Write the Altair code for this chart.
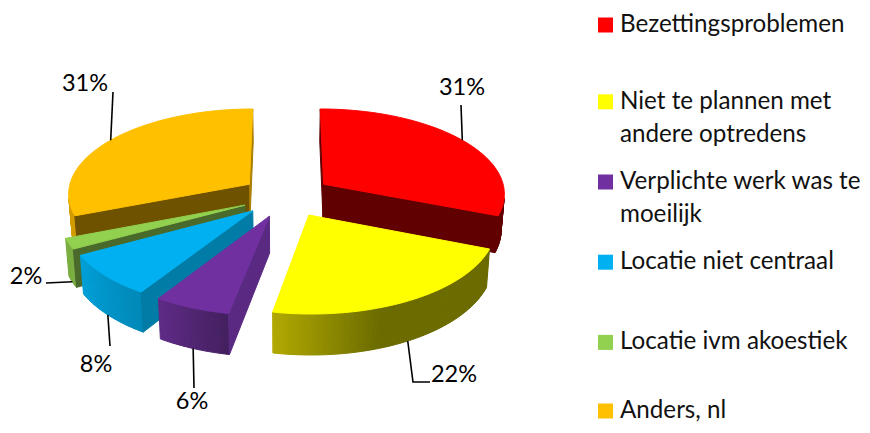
import math
import altair as alt

categories = ["Bezettingsproblemen", "Niet te plannen met andere optredens",
              "Verplichte werk was te moeilijk", "Locatie niet centraal",
              "Locatie ivm akoestiek", "Anders, nl"]
legend_line1 = ["Bezettingsproblemen", "Niet te plannen met", "Verplichte werk was te",
                "Locatie niet centraal", "Locatie ivm akoestiek", "Anders, nl"]
legend_line2 = ["", "andere optredens", "moeilijk", "", "", ""]
values = [31, 22, 6, 8, 2, 31]
top_colors = ["#ff0000", "#ffff00", "#7030a0", "#00b0f0", "#92d050", "#ffc000"]
rim_start = ["#600000", "#6b6b00", "#43205f", "#0088b8", "#7aae40", "#d39c00"]
rim_end = ["#600000", "#b0a800", "#5e2a86", "#00a0d8", "#7aae40", "#d39c00"]
start_face = ["#600000", "#6b6b00", "#5a2a82", "#007ca6", "#4a6a2c", "#6e5200"]
end_face = ["#600000", "#6b6b00", "#5a2a82", "#007ca6", "#4a6a2c", "#a87d00"]
paint_order = [5, 0, 4, 3, 1, 2]

# picture-space model of the exploded, tilted pie (chart pixels = page pixels - 8)
CX, CY, RX, RY, K, EXPLODE, DEPTH = 278.5, 188.0, 182.0, 85.0, 0.10, 0.25, 36.0


def project(wx, wy, bottom=False):
    p = 1.0 / (1.0 - K * wy)
    x = RX * wx * p
    y = RY * wy * p
    if bottom:
        return [CX + x * 0.985, CY + y + DEPTH * p]
    return [CX + x, CY + y]


def polar(a, r=1.0):
    return r * math.sin(a), -r * math.cos(a)


def hex_mix(c1, c2, t):
    a = [int(c1[i:i + 2], 16) for i in (1, 3, 5)]
    b = [int(c2[i:i + 2], 16) for i in (1, 3, 5)]
    return "#%02x%02x%02x" % tuple(round(u + (v - u) * t) for u, v in zip(a, b))


def area(pts):
    s = 0.0
    for i in range(len(pts)):
        x1, y1 = pts[i]
        x2, y2 = pts[(i + 1) % len(pts)]
        s += x1 * y2 - x2 * y1
    return s / 2


def feature(pts, fill):
    return {"type": "Feature",
            "geometry": {"type": "Polygon", "coordinates": [pts + [pts[0]]]},
            "properties": {"fill": fill}}


total = sum(values)
bounds = [0.0]
for v in values:
    bounds.append(bounds[-1] + 2 * math.pi * v / total)

shapes = []
for i in paint_order:
    a0, a1 = bounds[i], bounds[i + 1]
    mid = (a0 + a1) / 2
    ex, ey = polar(mid, EXPLODE)
    n = max(4, int((a1 - a0) / 0.015))
    rim = [(ex + polar(a0 + (a1 - a0) * j / n)[0], ey + polar(a0 + (a1 - a0) * j / n)[1]) for j in range(n + 1)]
    at, ab = project(ex, ey), project(ex, ey, True)
    # outer rim strips
    for j in range(n):
        q = [project(*rim[j]), project(*rim[j + 1]), project(*rim[j + 1], True), project(*rim[j], True)]
        if area(q) < 0:
            t = j / (n - 1)
            if i == 1:  # the dark part holds until the last third
                t = max(0.0, (t - 0.62) / 0.38)
            shapes.append(feature(q, hex_mix(rim_start[i], rim_end[i], t)))
    # cut faces
    q = [at, project(*rim[0]), project(*rim[0], True), ab]
    if area(q) < 0:
        shapes.append(feature(q, start_face[i]))
    q = [project(*rim[-1]), at, ab, project(*rim[-1], True)]
    if area(q) < 0:
        shapes.append(feature(q, end_face[i]))
    shapes.append(feature([at] + [project(*w) for w in rim], top_colors[i]))

label_text = ["%d%%" % v for v in values]
label_x = [454, 446, 184, 88, 18, 77]
label_y = [80, 367, 394, 357, 269, 76]
leader_via = [[(453, 97)], [(405, 374), (422, 374)], [(186, 380)], [(102, 338)], [(38, 275)], [(105, 84)]]
leader_bottom = [False, True, True, True, True, False]

label_rows = [{"t": t, "px": x, "py": y} for t, x, y in zip(label_text, label_x, label_y)]
leader_rows = []
for i in range(len(values)):
    mid = (bounds[i] + bounds[i + 1]) / 2
    ex, ey = polar(mid, EXPLODE)
    rx, ry = polar(mid)
    sx, sy = project(ex + rx, ey + ry, leader_bottom[i])
    pts = [(sx, sy)] + leader_via[i]
    for k, (x, y) in enumerate(pts):
        leader_rows.append({"s": i, "k": k, "px": x, "py": y})

legend_rows = [{"rank": r, "name": c, "a": a, "b": b}
               for r, (c, a, b) in enumerate(zip(categories, legend_line1, legend_line2))]

FONT = "Lato"
LEG_FS = 24.2
LAB_FS = 23.5

pie = alt.Chart(alt.Data(values=shapes)).mark_geoshape(strokeWidth=1, opacity=1, fillOpacity=1, strokeOpacity=1).encode(
    fill=alt.Fill("properties.fill:N", scale=None),
    stroke=alt.Stroke("properties.fill:N", scale=None),
).project(type="identity", scale=1, translate=[0, 0])

leaders = alt.Chart(alt.Data(values=leader_rows)).mark_line(color="black", strokeWidth=1.6).encode(
    x=alt.X("px:Q", scale=None, axis=None),
    y=alt.Y("py:Q", scale=None, axis=None),
    detail="s:N",
    order="k:Q",
)

labels = alt.Chart(alt.Data(values=label_rows)).mark_text(
    font=FONT, fontSize=LAB_FS, color="black", align="center", baseline="middle"
).encode(
    x=alt.X("px:Q", scale=None, axis=None),
    y=alt.Y("py:Q", scale=None, axis=None),
    text="t:N",
)

ly = alt.Y("rank:Q", axis=None, scale=alt.Scale(domain=[0, 1, 4, 5], range=[17, 93.8, 334.4, 403]))

swatches = alt.Chart(alt.Data(values=legend_rows)).mark_square(size=225, opacity=1).encode(
    x=alt.value(597.5),
    y=ly,
    color=alt.Color("name:N", legend=None, scale=alt.Scale(domain=categories, range=top_colors)),
)
text1 = alt.Chart(alt.Data(values=legend_rows)).mark_text(
    font=FONT, fontSize=LEG_FS, color="#111111", align="left", baseline="middle"
).encode(x=alt.value(612), y=ly, text="a:N")
text2 = alt.Chart(alt.Data(values=legend_rows)).mark_text(
    font=FONT, fontSize=LEG_FS, color="#111111", align="left", baseline="middle", dy=33
).encode(x=alt.value(612), y=ly, text="b:N")

chart = alt.layer(pie, leaders, labels, swatches, text1, text2).resolve_scale(
    x="independent", y="independent", color="independent"
).properties(width=854, height=417, padding=0, background="white",
             autosize=alt.AutoSizeParams(type="none")).configure_view(strokeWidth=0)

chart.save("out.html", embed_options={"renderer": "svg", "actions": False})
